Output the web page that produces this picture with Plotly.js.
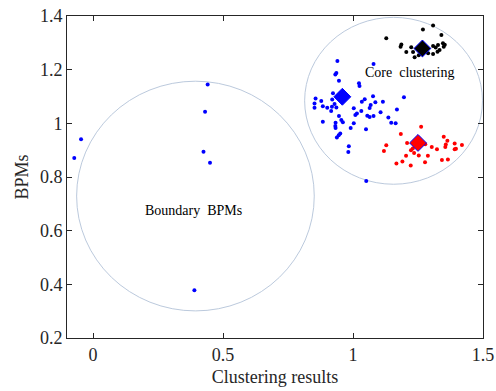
<!DOCTYPE html>
<html>
<head>
<meta charset="utf-8">
<script src="https://cdn.plot.ly/plotly-3.0.1.min.js"></script>
<style>html,body{margin:0;padding:0;background:#fff;}#chart{width:496px;height:391px;}</style>
</head>
<body>
<div id="chart"></div>
<script>
// Core cluster 1 (blue)
const blueX = [0.940,0.936,0.932,0.946,1.023,1.025,1.079,0.923,0.856,0.852,0.852,0.878,0.884,0.901,0.920,0.919,0.936,0.929,0.916,0.884,0.946,0.933,0.932,0.955,0.961,0.933,0.951,0.945,0.938,0.984,0.982,0.991,1.003,1.003,1.009,1.015,1.032,1.034,1.045,1.064,1.068,1.077,1.086,1.115,1.106,1.079,1.055,1.064,1.050,1.136,1.147,1.164,1.169,1.196,1.051];
const blueY = [1.232,1.188,1.182,1.159,1.149,1.139,1.221,1.112,1.093,1.074,1.058,1.083,1.064,1.058,1.089,1.062,1.059,1.072,1.046,1.006,1.027,1.002,0.990,1.012,1.004,0.983,0.962,0.956,0.947,0.915,0.893,0.983,1.000,1.056,1.031,1.037,1.046,1.080,1.090,1.057,1.068,1.101,1.079,1.080,1.041,1.027,1.028,1.024,0.978,1.022,1.002,1.000,1.052,1.097,0.785];
// Boundary BPMs (blue)
const boundX = [0.441,0.431,-0.046,-0.072,0.425,0.450,0.390];
const boundY = [1.145,1.043,0.941,0.871,0.894,0.853,0.378];
// Core cluster 2 (red)
const redX = [1.262,1.184,1.128,1.119,1.208,1.223,1.230,1.235,1.204,1.190,1.167,1.222,1.253,1.278,1.303,1.323,1.288,1.277,1.349,1.363,1.357,1.355,1.391,1.419,1.391,1.396,1.342,1.365];
const redY = [0.987,0.960,0.918,0.897,0.927,0.900,0.906,0.889,0.879,0.858,0.850,0.843,0.880,0.922,0.912,0.903,0.879,0.855,0.950,0.935,0.921,0.912,0.925,0.919,0.903,0.905,0.863,0.865];
// Core cluster 3 (black)
const blackX = [1.128,1.269,1.308,1.340,1.186,1.183,1.205,1.231,1.237,1.253,1.289,1.308,1.318,1.327,1.346,1.353,1.349,1.325,1.308,1.333,1.224];
const blackY = [1.317,1.350,1.365,1.329,1.294,1.285,1.266,1.266,1.246,1.254,1.261,1.288,1.283,1.292,1.298,1.293,1.285,1.267,1.258,1.273,1.284];
// Cluster centres
const centreX = [0.959,1.250,1.267];
const centreY = [1.099,0.927,1.279];
const centreColors = ['#0000ff','#ff0000','#000000'];
// Enclosing circles [x0,x1,y0,y1]
const coreCircle = [1.156-0.342,1.156+0.342,1.084-0.311,1.084+0.311];
const boundaryCircle = [0.394-0.457,0.394+0.457,0.729-0.428,0.729+0.428];
// Annotations
const labels = ['Core&nbsp;&nbsp;clustering','Boundary&nbsp;&nbsp;BPMs'];
const labelX = [1.218,0.388];
const labelY = [1.19,0.676];

const font = 'Liberation Serif, Times New Roman, serif';
const dot = (x,y,c)=>({x:x,y:y,type:'scatter',mode:'markers',marker:{size:4,color:c},showlegend:false,hoverinfo:'skip'});
const traces = [
  dot(blueX,blueY,'#0000ff'),
  dot(boundX,boundY,'#0000ff'),
  dot(redX,redY,'#ff0000'),
  dot(blackX,blackY,'#000000'),
  {x:centreX,y:centreY,type:'scatter',mode:'markers',showlegend:false,
   marker:{symbol:'diamond',size:13,color:centreColors,line:{color:'#0000ff',width:1}}}
];
const circ = (c)=>({type:'circle',xref:'x',yref:'y',x0:c[0],x1:c[1],y0:c[2],y1:c[3],line:{color:'#b3c3d8',width:0.9},layer:'below'});
const layout = {
  width:496,height:391,
  margin:{l:67,r:13,t:16,b:53},
  paper_bgcolor:'#fff',plot_bgcolor:'#fff',
  font:{family:font,size:18,color:'#262626'},
  xaxis:{range:[-0.1,1.5],tickvals:[0,0.5,1,1.5],ticktext:['0','0.5','1','1.5'],
    showgrid:false,zeroline:false,showline:true,linecolor:'#262626',linewidth:1,mirror:'ticks',
    ticks:'inside',ticklen:5,tickcolor:'#262626',
    title:{text:'Clustering results',font:{family:font,size:18,color:'#262626'},standoff:6}},
  yaxis:{range:[0.2,1.4],tickvals:[0.2,0.4,0.6,0.8,1,1.2,1.4],ticktext:['0.2','0.4','0.6','0.8','1','1.2','1.4'],
    showgrid:false,zeroline:false,showline:true,linecolor:'#262626',linewidth:1,mirror:'ticks',
    ticks:'inside',ticklen:5,tickcolor:'#262626',
    title:{text:'BPMs',font:{family:font,size:18,color:'#262626'},standoff:6}},
  shapes:[circ(coreCircle),circ(boundaryCircle)],
  annotations: labels.map((t,i)=>({x:labelX[i],y:labelY[i],xref:'x',yref:'y',text:t,showarrow:false,
    font:{family:font,size:14,color:'#000'}}))
};
Plotly.newPlot('chart',traces,layout,{displayModeBar:false,staticPlot:true});
</script>
</body>
</html>
